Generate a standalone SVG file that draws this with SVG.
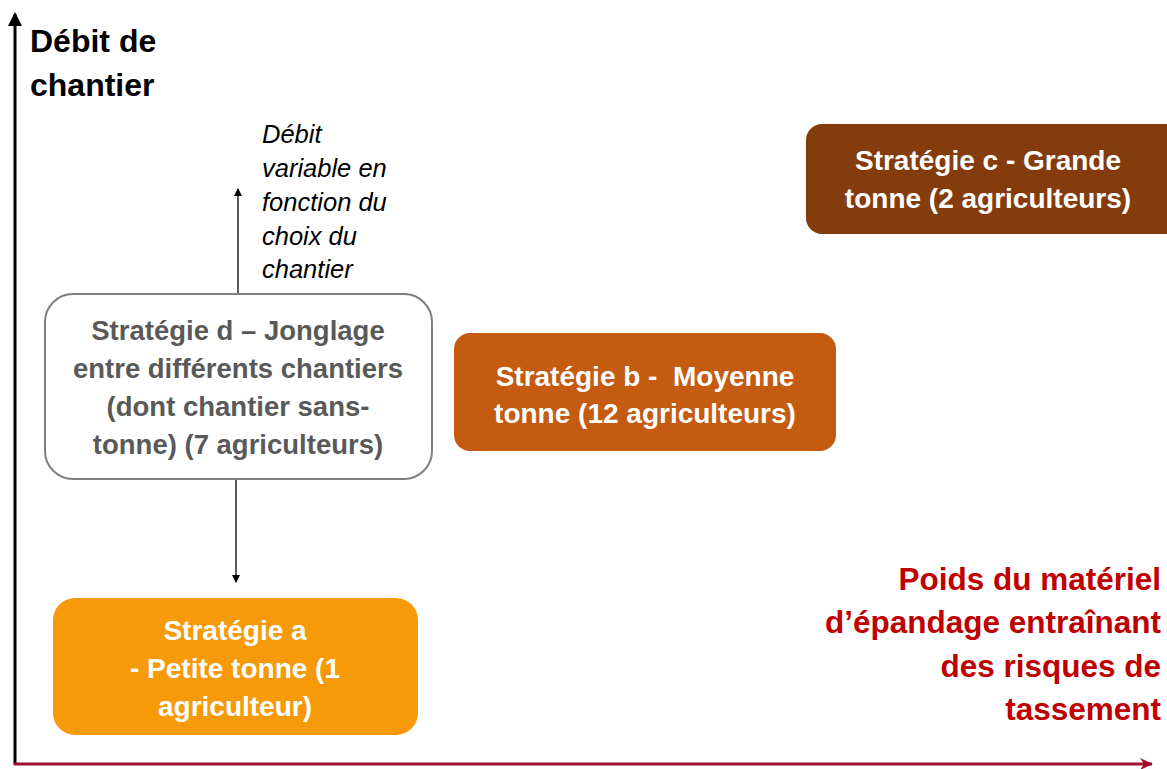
<svg xmlns="http://www.w3.org/2000/svg" width="1167" height="769" viewBox="0 0 1167 769">
<style>
.bx{font-family:"Liberation Sans",Arial,sans-serif;font-weight:bold;font-size:28px;text-anchor:middle}
.w{fill:#ffffff}
.g{fill:#595959}
.it{font-family:"Liberation Sans",Arial,sans-serif;font-style:italic;font-size:25.5px;fill:#000}
.ttl{font-family:"Liberation Sans",Arial,sans-serif;font-weight:bold;font-size:32px;fill:#000}
.red{font-family:"Liberation Sans",Arial,sans-serif;font-weight:bold;font-size:31.5px;fill:#c00000;text-anchor:end}
</style>
<defs>
<marker id="ah" markerWidth="8" markerHeight="8" refX="7" refY="4" orient="auto" markerUnits="userSpaceOnUse">
<path d="M0,0 L8,4 L0,8 Z" fill="#000"/>
</marker>
<marker id="ahBig" markerWidth="14" markerHeight="14" refX="12" refY="7" orient="auto" markerUnits="userSpaceOnUse">
<path d="M0,0 L14,7 L0,14 Z" fill="#000"/>
</marker>
<marker id="ahRed" markerWidth="16" markerHeight="14" refX="14" refY="7" orient="auto" markerUnits="userSpaceOnUse">
<path d="M2,1 L15,7 L2,13 L6,7 Z" fill="#a0102e"/>
</marker>
</defs>
<rect width="1167" height="769" fill="#fff"/>
<g id="axes">
<line x1="15" y1="765" x2="15" y2="14" stroke="#000" stroke-width="3" marker-end="url(#ahBig)"/>
<line x1="14" y1="764" x2="1152" y2="764" stroke="#a0102e" stroke-width="3" marker-end="url(#ahRed)"/>
</g>
<g id="connectors">
<line x1="238" y1="294" x2="238" y2="189" stroke="#000" stroke-width="1.3" marker-end="url(#ah)"/>
<line x1="236" y1="479" x2="236" y2="582" stroke="#000" stroke-width="1.3" marker-end="url(#ah)"/>
</g>
<g id="title-y">
<text class="ttl" x="30" y="52">Débit de</text>
<text class="ttl" x="30" y="96">chantier</text>
</g>
<g id="note">
<text class="it" x="262" y="143">Débit</text>
<text class="it" x="262" y="177">variable en</text>
<text class="it" x="262" y="211">fonction du</text>
<text class="it" x="262" y="245">choix du</text>
<text class="it" x="262" y="278">chantier</text>
</g>
<g id="node-c">
<rect x="806" y="124" width="375" height="110" rx="16" fill="#843c0c"/>
<text class="bx w" x="988" y="170">Stratégie c - Grande</text>
<text class="bx w" x="988" y="208">tonne (2 agriculteurs)</text>
</g>
<g id="node-b">
<rect x="454" y="333" width="382" height="118" rx="16" fill="#c55a11"/>
<text class="bx w" x="645" y="386" xml:space="preserve">Stratégie b -  Moyenne</text>
<text class="bx w" x="645" y="423">tonne (12 agriculteurs)</text>
</g>
<g id="node-d">
<rect x="45" y="294" width="387" height="185" rx="28" fill="#fff" stroke="#7f7f7f" stroke-width="2"/>
<text class="bx g" x="238" y="340" style="font-size:27.5px">Stratégie d – Jonglage</text>
<text class="bx g" x="238" y="378" style="font-size:27.5px">entre différents chantiers</text>
<text class="bx g" x="238" y="416" style="font-size:27.5px">(dont chantier sans-</text>
<text class="bx g" x="238" y="454" style="font-size:27.5px">tonne) (7 agriculteurs)</text>
</g>
<g id="node-a">
<rect x="53" y="598" width="365" height="137" rx="22" fill="#f79a09"/>
<text class="bx w" x="235" y="640">Stratégie a</text>
<text class="bx w" x="235" y="678">- Petite tonne (1</text>
<text class="bx w" x="235" y="716">agriculteur)</text>
</g>
<g id="title-x">
<text class="red" x="1161" y="590">Poids du matériel</text>
<text class="red" x="1161" y="633">d’épandage entraînant</text>
<text class="red" x="1161" y="677">des risques de</text>
<text class="red" x="1161" y="720">tassement</text>
</g>
</svg>
